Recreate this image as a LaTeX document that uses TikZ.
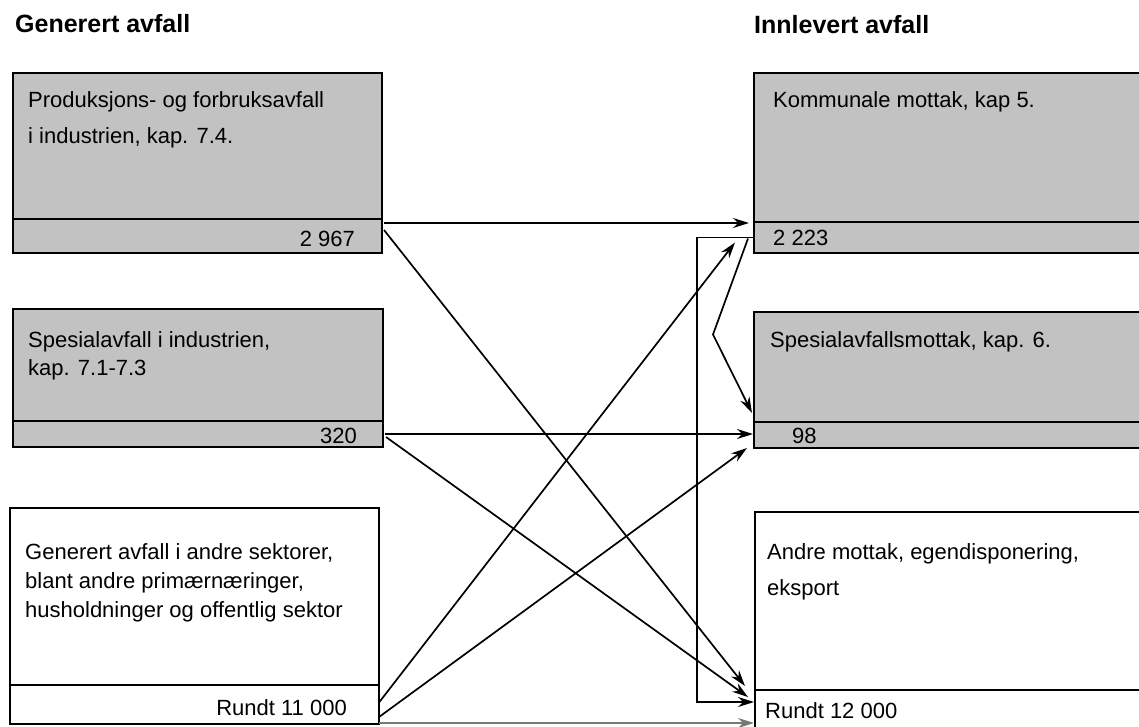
\documentclass[tikz,border=0pt]{standalone}
\usepackage{fontspec}
\setmainfont{Liberation Sans}
\usetikzlibrary{arrows.meta,calc}
\definecolor{boxgray}{RGB}{194,194,194}
\definecolor{linegray}{RGB}{120,120,120}
\begin{document}
\begin{tikzpicture}[x=1pt,y=-1pt,
  gbox/.style={draw, line width=1.9pt, fill=boxgray, inner sep=0pt, outer sep=0pt, anchor=north west},
  wbox/.style={gbox, fill=white},
  lbl/.style={font=\fontsize{22}{26}\selectfont, inner sep=0pt, anchor=base west},
  numr/.style={lbl, anchor=base east},
  head/.style={font=\fontsize{25}{30}\selectfont\bfseries, inner sep=0pt, anchor=base west},
  flow/.style={line width=1.7pt, -{Stealth[length=16pt,width=10pt]}}
]
\path[use as bounding box] (0,0) rectangle (1139,726);
\begin{scope}
\clip (0,0) rectangle (1139,726);
% left boxes
\node[gbox, minimum width=369pt, minimum height=146pt] (L1) at (13,73) {};
\node[gbox, minimum width=369pt, minimum height=34pt] (L1s) at (13,219) {};
\node[gbox, minimum width=370pt, minimum height=112pt] (L2) at (13,309) {};
\node[gbox, minimum width=370pt, minimum height=26pt] (L2s) at (13,421) {};
\node[wbox, minimum width=369pt, minimum height=177pt] (L3) at (10,508) {};
\node[wbox, minimum width=369pt, minimum height=39pt] (L3s) at (10,685) {};
% right boxes
\node[gbox, minimum width=400pt, minimum height=149pt] (R1) at (754,73) {};
\node[gbox, minimum width=400pt, minimum height=31pt] (R1s) at (754,222) {};
\node[gbox, minimum width=400pt, minimum height=110pt] (R2) at (754,312) {};
\node[gbox, minimum width=400pt, minimum height=26pt] (R2s) at (754,422) {};
\node[wbox, minimum width=400pt, minimum height=178pt] (R3) at (755,512) {};
\node[wbox, minimum width=400pt, minimum height=50pt] (R3s) at (755,690) {};
\end{scope}
% headers
\node[head] (h1) at (15,32) {Generert avfall};
\node[head] (h2) at (754,33) {Innlevert avfall};
% texts
\node[lbl] (t1a) at (28,107) {Produksjons- og forbruksavfall};
\node[lbl] (t1b) at (28,143) {i industrien, kap. 7.4.};
\node[numr] (n1) at (355,246) {2 967};
\node[lbl] (t2a) at (28,347) {Spesialavfall i industrien,};
\node[lbl] (t2b) at (28,375) {kap. 7.1-7.3};
\node[numr] (n2) at (357,443) {320};
\node[lbl] (t3a) at (25,559) {Generert avfall i andre sektorer,};
\node[lbl] (t3b) at (25,588) {blant andre primærnæringer,};
\node[lbl] (t3c) at (25,617) {husholdninger og offentlig sektor};
\node[numr] (n3) at (347,715) {Rundt 11 000};
\node[lbl] (r1a) at (773,107) {Kommunale mottak, kap 5.};
\node[lbl] (m1) at (773,245) {2 223};
\node[lbl] (r2a) at (770,347) {Spesialavfallsmottak, kap. 6.};
\node[lbl] (m2) at (792,443) {98};
\node[lbl] (r3a) at (767,559) {Andre mottak, egendisponering,};
\node[lbl] (r3b) at (767,595) {eksport};
\node[lbl] (m3) at (765,718) {Rundt 12 000};
% connectors
\coordinate (a1s) at ($(L1s.north east)+(2,4)$);
\draw[flow, shorten >=5pt] (a1s) -- (a1s -| R1s.west);
\draw[flow] ($(L1s.east)+(2,-6)$) -- ($(R3s.north west)+(-10,-4)$);
\draw[flow, shorten >=1pt] ($(L2s.east)+(2,0)$) -- (L2s.east -| R2s.west);
\draw[flow] ($(L2s.east)+(3,3)$) -- ($(R3s.north west)+(-7,7)$);
\draw[flow] ($(L3s.east)+(0,-2)$) -- ($(R1s.west)+(-19,5)$);
\draw[flow] ($(L3s.south east)+(0,-7)$) -- ($(R2s.south west)+(-7,0)$);
\draw[flow, draw=linegray, shorten >=1pt] ($(L3s.south east)+(0,-1)$) -- ($(L3s.south east -| R3s.west)+(0,-1)$);
\coordinate (loopA) at ($(R1s.west)+(-57,0)$);
\coordinate (r3in) at ($(R3s.north west)+(0,12)$);
\draw[flow, shorten >=1pt] (R1s.west) -- (loopA) |- (r3in);
\coordinate (kink) at ($(R1s.west)+(-41,97)$);
\draw[flow] ($(R1s.west)+(-6,1)$) -- (kink) -- ($(R2.south west)+(-2,-9)$);
\end{tikzpicture}
\end{document}
